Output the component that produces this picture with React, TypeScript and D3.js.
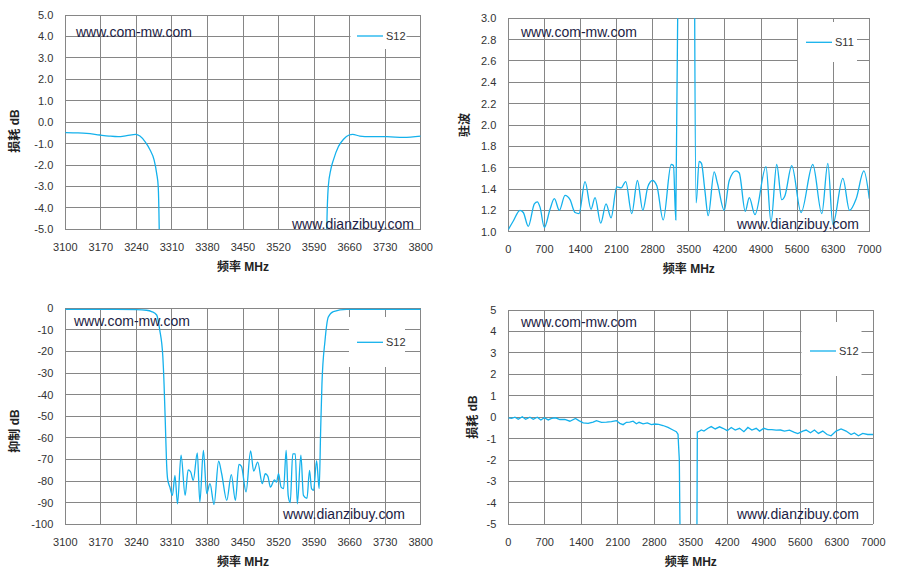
import * as d3 from 'd3';

type Pt = [number, number];

// S12 insertion loss, narrow span (MHz, dB)
const lossNarrowS12: Pt[] = [
  [3100, -0.49], [3120, -0.5], [3142, -0.52], [3168, -0.6], [3186, -0.65], [3204, -0.68],
  [3221, -0.63], [3239, -0.57], [3247, -0.65], [3257, -0.91], [3267, -1.3], [3275, -1.77],
  [3280, -2.4], [3283, -3.0], [3285, -5], [3288, -12], [3450, -80], [3612, -12],
  [3615, -5], [3618, -3.0], [3623, -2.2], [3628, -1.77], [3638, -1.14], [3648, -0.8],
  [3659, -0.6], [3666, -0.57], [3680, -0.65], [3700, -0.68], [3733, -0.68], [3766, -0.71],
  [3800, -0.65],
];

// S11 VSWR, wide span
const vswrS11: Pt[] = [
  [0, 1.02], [97, 1.1], [226, 1.2], [291, 1.18], [388, 1.05], [505, 1.26], [563, 1.28],
  [615, 1.23], [699, 1.04], [809, 1.21], [893, 1.31], [990, 1.2], [1100, 1.34], [1197, 1.3],
  [1294, 1.18], [1371, 1.17], [1488, 1.47], [1604, 1.21], [1682, 1.32], [1792, 1.08],
  [1895, 1.26], [1993, 1.13], [2103, 1.42], [2187, 1.41], [2277, 1.47], [2394, 1.17],
  [2504, 1.48], [2608, 1.2], [2705, 1.42], [2796, 1.48], [2880, 1.43], [3003, 1.11],
  [3158, 1.63], [3203, 1.62], [3248, 1.11], [3290, 3.3], [3300, 8], [3600, 8], [3612, 3.3],
  [3643, 1.27], [3700, 1.66], [3746, 1.64], [3811, 1.39], [3876, 1.15], [3992, 1.56],
  [4057, 1.45], [4187, 1.2], [4284, 1.48], [4414, 1.57], [4478, 1.55], [4595, 1.19],
  [4673, 1.32], [4783, 1.16], [4997, 1.61], [5094, 1.09], [5204, 1.63], [5302, 1.3],
  [5366, 1.34], [5496, 1.62], [5677, 1.18], [5904, 1.63], [6079, 1.17], [6196, 1.64],
  [6293, 1.07], [6487, 1.5], [6617, 1.2], [6746, 1.31], [6895, 1.57], [7000, 1.31],
];

// S12 rejection, narrow span
const rejectS12: Pt[] = [
  [3100, -0.5], [3200, -0.5], [3240, -0.6], [3260, -0.9], [3270, -1.5], [3280, -3.1],
  [3286, -10], [3292, -22], [3294.5, -35], [3297, -53], [3299.5, -72], [3301.5, -79],
  [3306, -82.8], [3311, -86.6], [3316, -77.4], [3321, -90.5], [3328, -68], [3336, -86.6],
  [3342, -74.8], [3347, -75.8], [3352, -79.7], [3360, -67], [3365, -89.7], [3372, -65.8],
  [3378.5, -85.8], [3385, -81.2], [3393, -90.8], [3402, -70.8], [3408, -76.6], [3418, -88.9],
  [3427, -77], [3435, -88.9], [3442, -72.3], [3447, -73.2], [3456, -85], [3465, -66],
  [3471, -75.4], [3479, -71.2], [3488, -81.2], [3494, -76.6], [3499, -77.8], [3504, -82.8],
  [3512, -79.4], [3516, -80.5], [3520, -76.6], [3525, -82.8], [3530, -83.5], [3535, -65.8],
  [3539, -86.6], [3543, -90], [3548, -67.4], [3553, -67.4], [3557, -90.5], [3564, -68],
  [3569, -86.6], [3576, -88], [3581, -75], [3585, -83.5], [3589, -84.3], [3595, -70.5],
  [3600, -83.5], [3603, -56], [3605.5, -35], [3611.5, -15], [3618, -4], [3628, -1.5],
  [3654, -0.5], [3800, -0.5],
];

// S12 insertion loss, wide span
const lossWideS12: Pt[] = [
  [0, -0.03], [64, -0.06], [128, 0], [191, -0.1], [268, 0.02], [332, -0.1], [415, 0],
  [479, -0.1], [555, 0], [625, -0.13], [689, -0.03], [766, -0.13], [830, -0.06], [906, -0.03],
  [989, -0.11], [1085, -0.11], [1180, -0.19], [1289, -0.06], [1353, -0.16], [1436, -0.27],
  [1531, -0.29], [1627, -0.23], [1691, -0.16], [1787, -0.24], [1883, -0.23], [1978, -0.21],
  [2074, -0.16], [2138, -0.29], [2202, -0.35], [2265, -0.24], [2329, -0.23], [2393, -0.19],
  [2457, -0.31], [2508, -0.24], [2585, -0.31], [2667, -0.27], [2744, -0.35], [2808, -0.32],
  [2884, -0.34], [2967, -0.39], [3063, -0.48], [3158, -0.6], [3222, -0.68], [3255, -0.8],
  [3265, -1.3], [3280, -2.0], [3292, -5], [3300, -10], [3610, -10], [3625, -0.7],
  [3650, -0.68], [3701, -0.6], [3752, -0.65], [3829, -0.52], [3892, -0.44], [3969, -0.55],
  [4052, -0.45], [4116, -0.52], [4199, -0.63], [4276, -0.48], [4352, -0.6], [4435, -0.52],
  [4518, -0.68], [4595, -0.48], [4671, -0.6], [4754, -0.52], [4818, -0.65], [4901, -0.52],
  [4977, -0.58], [5054, -0.58], [5137, -0.61], [5220, -0.6], [5297, -0.65], [5392, -0.61],
  [5488, -0.71], [5552, -0.77], [5648, -0.65], [5712, -0.6], [5795, -0.73], [5871, -0.6],
  [5948, -0.76], [6031, -0.65], [6114, -0.81], [6190, -0.87], [6286, -0.65], [6382, -0.55],
  [6478, -0.65], [6574, -0.81], [6637, -0.74], [6714, -0.87], [6797, -0.76], [6893, -0.81],
  [6989, -0.81], [7000, -0.8],
];

const narrowFreqTicks = d3.range(3100, 3801, 70);
const wideFreqTicks = d3.range(0, 7001, 700);
const lossTicks = d3.range(-5, 5.01, 1);
const vswrTicks = d3.range(10, 31, 2).map((d) => d / 10);
const rejectTicks = d3.range(-100, 1, 10);

const LINE = '#14b1ec';
const GRID = '#868686';
const FONT = '"Liberation Sans", Arial, "Noto Sans CJK SC", sans-serif';

interface PanelProps {
  id: string;
  data: Pt[];
  series: string;
  xDomain: [number, number];
  yDomain: [number, number];
  xTicks: number[];
  yTicks: number[];
  yFormat: (d: number) => string;
  box: { left: number; right: number; top: number; bottom: number };
  yTitle: string;
  yTitlePos: [number, number];
  legend: { x: number; y: number; w: number; h: number; lineX: number; lineY: number };
  markA: [number, number];
  markB: [number, number];
  curve: d3.CurveFactory;
}

const Panel = (p: PanelProps) => {
  const { left, right, top, bottom } = p.box;
  const x = d3.scaleLinear().domain(p.xDomain).range([left, right]);
  const y = d3.scaleLinear().domain(p.yDomain).range([bottom, top]);
  const line = d3
    .line<Pt>()
    .x((d) => x(d[0]))
    .y((d) => y(d[1]))
    .curve(p.curve);
  const lg = p.legend;

  return (
    <g>
      <defs>
        <clipPath id={p.id}>
          <rect x={left} y={top} width={right - left} height={bottom - top} />
        </clipPath>
      </defs>
      <g stroke={GRID} strokeWidth={1} shapeRendering='crispEdges'>
        {p.xTicks.map((t) => (
          <line key={'x' + t} x1={x(t)} x2={x(t)} y1={top} y2={bottom} />
        ))}
        {p.yTicks.map((t) => (
          <line key={'y' + t} x1={left} x2={right} y1={y(t)} y2={y(t)} />
        ))}
      </g>
      <g fontFamily={FONT} fontSize={11} fill='#333'>
        {p.xTicks.map((t) => (
          <text key={'xl' + t} x={x(t)} y={bottom + 21.5} textAnchor='middle'>
            {t}
          </text>
        ))}
        {p.yTicks.map((t) => (
          <text key={'yl' + t} x={left - 12} y={y(t)} dy='0.36em' textAnchor='end'>
            {p.yFormat(t)}
          </text>
        ))}
      </g>
      <text
        x={(left + right) / 2}
        y={bottom + 41.5}
        textAnchor='middle'
        fontFamily={FONT}
        fontSize={12}
        fontWeight='bold'
        fill='#222'
      >
        频率 MHz
      </text>
      <text
        transform={`translate(${p.yTitlePos[0]},${p.yTitlePos[1]}) rotate(-90)`}
        textAnchor='middle'
        dy='0.35em'
        fontFamily={FONT}
        fontSize={12}
        fontWeight='bold'
        fill='#222'
      >
        {p.yTitle}
      </text>
      <path
        d={line(p.data) ?? ''}
        fill='none'
        stroke={LINE}
        strokeWidth={1.3}
        clipPath={`url(#${p.id})`}
      />
      <rect x={lg.x} y={lg.y} width={lg.w} height={lg.h} fill='white' />
      <line x1={lg.lineX} x2={lg.lineX + 26} y1={lg.lineY} y2={lg.lineY} stroke={LINE} strokeWidth={1.3} />
      <text x={lg.lineX + 29} y={lg.lineY} dy='0.35em' fontFamily={FONT} fontSize={11} fill='#333'>
        {p.series}
      </text>
      <g fontFamily={FONT} fontSize={14} fill='#1c1c44'>
        <text x={p.markA[0]} y={p.markA[1]}>www.com-mw.com</text>
        <text x={p.markB[0]} y={p.markB[1]}>www.dianzibuy.com</text>
      </g>
    </g>
  );
};

const fmt1 = (d: number) => d.toFixed(1);
const fmt0 = (d: number) => String(Math.round(d));

export default function App() {
  return (
    <svg
      width={898}
      height={583}
      style={{ position: 'absolute', left: 0, top: 0, background: 'white' }}
    >
      <Panel
        id='c1'
        data={lossNarrowS12}
        series='S12'
        xDomain={[3100, 3800]}
        yDomain={[-5, 5]}
        xTicks={narrowFreqTicks}
        yTicks={lossTicks}
        yFormat={fmt1}
        box={{ left: 65.3, right: 420.7, top: 15, bottom: 229.3 }}
        yTitle='损耗 dB'
        yTitlePos={[15, 131]}
        legend={{ x: 350.5, y: 16, w: 56, h: 33, lineX: 357, lineY: 36 }}
        markA={[76, 37]}
        markB={[292, 228.5]}
        curve={d3.curveMonotoneX}
      />
      <Panel
        id='c2'
        data={vswrS11}
        series='S11'
        xDomain={[0, 7000]}
        yDomain={[1, 3]}
        xTicks={wideFreqTicks}
        yTicks={vswrTicks}
        yFormat={fmt1}
        box={{ left: 508.3, right: 869.3, top: 18.3, bottom: 231.7 }}
        yTitle='驻波'
        yTitlePos={[465, 125]}
        legend={{ x: 798, y: 22, w: 59, h: 40, lineX: 806, lineY: 42.3 }}
        markA={[521, 37]}
        markB={[737, 228.5]}
        curve={d3.curveMonotoneX}
      />
      <Panel
        id='c3'
        data={rejectS12}
        series='S12'
        xDomain={[3100, 3800]}
        yDomain={[-100, 0]}
        xTicks={narrowFreqTicks}
        yTicks={rejectTicks}
        yFormat={fmt0}
        box={{ left: 65.3, right: 420.7, top: 308.3, bottom: 524.3 }}
        yTitle='抑制 dB'
        yTitlePos={[15, 431]}
        legend={{ x: 349, y: 317, w: 56, h: 50, lineX: 357, lineY: 342.3 }}
        markA={[74, 326]}
        markB={[283, 518.5]}
        curve={d3.curveMonotoneX}
      />
      <Panel
        id='c4'
        data={lossWideS12}
        series='S12'
        xDomain={[0, 7000]}
        yDomain={[-5, 5]}
        xTicks={wideFreqTicks}
        yTicks={lossTicks}
        yFormat={fmt0}
        box={{ left: 508.3, right: 873.3, top: 310, bottom: 524.3 }}
        yTitle='损耗 dB'
        yTitlePos={[473, 417]}
        legend={{ x: 801.5, y: 322, w: 60, h: 54, lineX: 810, lineY: 351 }}
        markA={[521, 327]}
        markB={[737, 518.5]}
        curve={d3.curveLinear}
      />
    </svg>
  );
}
